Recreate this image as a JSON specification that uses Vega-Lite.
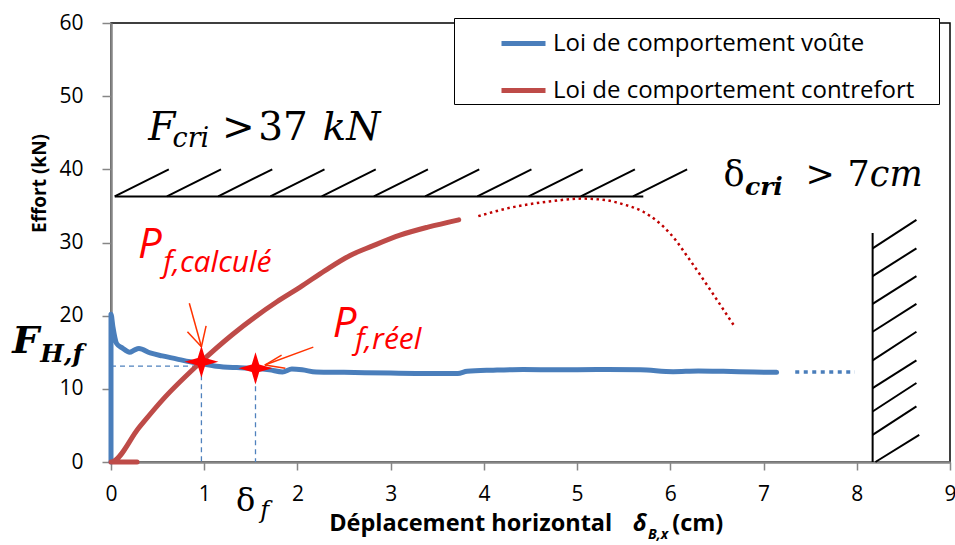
{
  "$schema": "https://vega.github.io/schema/vega-lite/v6.json",
  "width": 839,
  "height": 439,
  "autosize": {"type": "none"},
  "padding": {"left": 111, "top": 23, "right": 5, "bottom": 83},
  "background": "white",
  "config": {
    "view": {"stroke": "#000", "strokeWidth": 1.5},
    "axis": {"grid": false}
  },
  "datasets": {
    "main": [
      {"serie": "Loi de comportement voûte", "o": 0, "x": 0, "y": 0},
      {"serie": "Loi de comportement voûte", "o": 1, "x": 0, "y": 20.2},
      {"serie": "Loi de comportement voûte", "o": 2, "x": 0.02, "y": 18.5},
      {"serie": "Loi de comportement voûte", "o": 3, "x": 0.06, "y": 16.2},
      {"serie": "Loi de comportement voûte", "o": 4, "x": 0.12, "y": 15.6},
      {"serie": "Loi de comportement voûte", "o": 5, "x": 0.2, "y": 15.0},
      {"serie": "Loi de comportement voûte", "o": 6, "x": 0.25, "y": 15.3},
      {"serie": "Loi de comportement voûte", "o": 7, "x": 0.3, "y": 15.5},
      {"serie": "Loi de comportement voûte", "o": 8, "x": 0.42, "y": 14.9},
      {"serie": "Loi de comportement voûte", "o": 9, "x": 0.55, "y": 14.5},
      {"serie": "Loi de comportement voûte", "o": 10, "x": 0.7, "y": 14.1},
      {"serie": "Loi de comportement voûte", "o": 11, "x": 0.85, "y": 13.7},
      {"serie": "Loi de comportement voûte", "o": 12, "x": 0.95, "y": 13.5},
      {"serie": "Loi de comportement voûte", "o": 13, "x": 1.13, "y": 13.1},
      {"serie": "Loi de comportement voûte", "o": 14, "x": 1.35, "y": 12.9},
      {"serie": "Loi de comportement voûte", "o": 15, "x": 1.55, "y": 12.8},
      {"serie": "Loi de comportement voûte", "o": 16, "x": 1.7, "y": 12.6},
      {"serie": "Loi de comportement voûte", "o": 17, "x": 1.84, "y": 12.3},
      {"serie": "Loi de comportement voûte", "o": 18, "x": 1.94, "y": 12.7},
      {"serie": "Loi de comportement voûte", "o": 19, "x": 2.05, "y": 12.6},
      {"serie": "Loi de comportement voûte", "o": 20, "x": 2.2, "y": 12.3},
      {"serie": "Loi de comportement voûte", "o": 21, "x": 2.5, "y": 12.25},
      {"serie": "Loi de comportement voûte", "o": 22, "x": 3.0, "y": 12.15},
      {"serie": "Loi de comportement voûte", "o": 23, "x": 3.4, "y": 12.1},
      {"serie": "Loi de comportement voûte", "o": 24, "x": 3.72, "y": 12.1},
      {"serie": "Loi de comportement voûte", "o": 25, "x": 3.82, "y": 12.4},
      {"serie": "Loi de comportement voûte", "o": 26, "x": 4.1, "y": 12.55},
      {"serie": "Loi de comportement voûte", "o": 27, "x": 4.42, "y": 12.65},
      {"serie": "Loi de comportement voûte", "o": 28, "x": 4.8, "y": 12.6},
      {"serie": "Loi de comportement voûte", "o": 29, "x": 5.21, "y": 12.65},
      {"serie": "Loi de comportement voûte", "o": 30, "x": 5.68, "y": 12.6},
      {"serie": "Loi de comportement voûte", "o": 31, "x": 6.03, "y": 12.35},
      {"serie": "Loi de comportement voûte", "o": 32, "x": 6.3, "y": 12.45},
      {"serie": "Loi de comportement voûte", "o": 33, "x": 6.57, "y": 12.4},
      {"serie": "Loi de comportement voûte", "o": 34, "x": 6.9, "y": 12.3},
      {"serie": "Loi de comportement voûte", "o": 35, "x": 7.14, "y": 12.25},
      {"serie": "Loi de comportement contrefort", "o": 0, "x": 0.28, "y": 0},
      {"serie": "Loi de comportement contrefort", "o": 1, "x": 0, "y": 0},
      {"serie": "Loi de comportement contrefort", "o": 2, "x": 0.3, "y": 4.7},
      {"serie": "Loi de comportement contrefort", "o": 3, "x": 0.56, "y": 8.6},
      {"serie": "Loi de comportement contrefort", "o": 4, "x": 0.95, "y": 13.5},
      {"serie": "Loi de comportement contrefort", "o": 5, "x": 1.3, "y": 17.4},
      {"serie": "Loi de comportement contrefort", "o": 6, "x": 1.78, "y": 21.9},
      {"serie": "Loi de comportement contrefort", "o": 7, "x": 2.03, "y": 23.9},
      {"serie": "Loi de comportement contrefort", "o": 8, "x": 2.3, "y": 26.2},
      {"serie": "Loi de comportement contrefort", "o": 9, "x": 2.56, "y": 28.2},
      {"serie": "Loi de comportement contrefort", "o": 10, "x": 2.8, "y": 29.5},
      {"serie": "Loi de comportement contrefort", "o": 11, "x": 3.1, "y": 31.0},
      {"serie": "Loi de comportement contrefort", "o": 12, "x": 3.4, "y": 32.1},
      {"serie": "Loi de comportement contrefort", "o": 13, "x": 3.73, "y": 33.1}
    ],
    "redDot": [
      {"x": 3.94, "y": 33.6}, {"x": 4.3, "y": 34.8}, {"x": 4.7, "y": 35.6},
      {"x": 5.06, "y": 36.0}, {"x": 5.3, "y": 35.8}, {"x": 5.5, "y": 35.2},
      {"x": 5.71, "y": 34.2}, {"x": 5.85, "y": 33.0}, {"x": 6.0, "y": 31.2},
      {"x": 6.21, "y": 27.6}, {"x": 6.43, "y": 23.5}, {"x": 6.69, "y": 18.5}
    ],
    "blueDot": [{"x": 7.34, "y": 12.3}, {"x": 7.98, "y": 12.3}],
    "hatch": [
      {"x": 0.04, "y": 36.3, "x2": 5.71, "y2": 36.3},
      {"x": 0.04, "y": 36.3, "x2": 0.62, "y2": 40},
      {"x": 0.6, "y": 36.3, "x2": 1.18, "y2": 40},
      {"x": 1.15, "y": 36.3, "x2": 1.73, "y2": 40},
      {"x": 1.71, "y": 36.3, "x2": 2.29, "y2": 40},
      {"x": 2.26, "y": 36.3, "x2": 2.84, "y2": 40},
      {"x": 2.82, "y": 36.3, "x2": 3.4, "y2": 40},
      {"x": 3.37, "y": 36.3, "x2": 3.95, "y2": 40},
      {"x": 3.93, "y": 36.3, "x2": 4.51, "y2": 40},
      {"x": 4.48, "y": 36.3, "x2": 5.06, "y2": 40},
      {"x": 5.04, "y": 36.3, "x2": 5.62, "y2": 40},
      {"x": 5.6, "y": 36.3, "x2": 6.18, "y2": 40},
      {"x": 8.17, "y": 0, "x2": 8.17, "y2": 31.3},
      {"x": 8.17, "y": 29.2, "x2": 8.64, "y2": 33.1},
      {"x": 8.17, "y": 25.4, "x2": 8.64, "y2": 29.2},
      {"x": 8.17, "y": 21.6, "x2": 8.64, "y2": 25.4},
      {"x": 8.17, "y": 17.8, "x2": 8.64, "y2": 21.6},
      {"x": 8.17, "y": 13.9, "x2": 8.64, "y2": 17.8},
      {"x": 8.17, "y": 10.1, "x2": 8.64, "y2": 13.9},
      {"x": 8.17, "y": 6.9, "x2": 8.64, "y2": 10.8},
      {"x": 8.17, "y": 3.7, "x2": 8.64, "y2": 7.6},
      {"x": 8.2, "y": 0, "x2": 8.67, "y2": 3.7}
    ],
    "dashes": [
      {"x": 0, "y": 13.1, "x2": 0.97, "y2": 13.1},
      {"x": 0.97, "y": 13.1, "x2": 0.97, "y2": 0},
      {"x": 1.55, "y": 12.8, "x2": 1.55, "y2": 0}
    ],
    "arrows": [
      {"x": 0.84, "y": 21.7, "x2": 0.97, "y2": 15.75},
      {"x": 0.82, "y": 17.8, "x2": 0.97, "y2": 15.75},
      {"x": 1.02, "y": 18.6, "x2": 0.97, "y2": 15.75},
      {"x": 2.17, "y": 15.7, "x2": 1.65, "y2": 13.25},
      {"x": 1.83, "y": 14.6, "x2": 1.65, "y2": 13.25},
      {"x": 1.87, "y": 12.8, "x2": 1.65, "y2": 13.25}
    ],
    "stars": [{"x": 0.97, "y": 13.7}, {"x": 1.55, "y": 12.8}]
  },
  "encoding": {
    "x": {
      "field": "x", "type": "quantitative",
      "scale": {"domain": [0, 9], "nice": false, "zero": false},
      "axis": {
        "values": [0, 1, 2, 3, 4, 5, 6, 7, 8, 9], "title": null,
        "labelFont": "Open Sans", "labelFontSize": 21, "labelColor": "#000",
        "labelFlush": false, "labelPadding": 13,
        "domainColor": "#868686", "domainWidth": 2.5,
        "tickColor": "#868686", "tickWidth": 1.5, "tickSize": 8
      }
    },
    "y": {
      "field": "y", "type": "quantitative",
      "scale": {"domain": [0, 60], "nice": false, "zero": false},
      "axis": {
        "values": [0, 10, 20, 30, 40, 50, 60],
        "title": "Effort (kN)", "titleFont": "Open Sans", "titleFontSize": 19,
        "titleFontWeight": "bold", "titleColor": "#000",
        "titleX": -66, "titleY": 160, "titleBaseline": "alphabetic", "titleAngle": -90,
        "labelFont": "Open Sans", "labelFontSize": 21, "labelColor": "#000",
        "labelPadding": 19, "labelFlush": false,
        "domainColor": "#868686", "domainWidth": 2.5,
        "tickColor": "#868686", "tickWidth": 1.5, "tickSize": 9
      }
    }
  },
  "layer": [
    {
      "data": {"name": "hatch"},
      "mark": {"type": "rule", "color": "#000", "strokeWidth": 2},
      "encoding": {"x2": {"field": "x2"}, "y2": {"field": "y2"}}
    },
    {
      "data": {"name": "dashes"},
      "mark": {"type": "rule", "color": "#4F81BD", "strokeWidth": 1.3, "strokeDash": [5, 4]},
      "encoding": {"x2": {"field": "x2"}, "y2": {"field": "y2"}}
    },
    {
      "data": {"name": "main"},
      "mark": {"type": "line", "strokeWidth": 5, "strokeCap": "round", "strokeJoin": "round", "interpolate": "monotone"},
      "encoding": {
        "color": {
          "field": "serie", "type": "nominal",
          "scale": {"domain": ["Loi de comportement voûte", "Loi de comportement contrefort"], "range": ["#4A7EBB", "#BE4B48"]},
          "legend": {
            "orient": "none", "legendX": 343, "legendY": -5,
            "title": "\u00a0", "titleOrient": "right", "titlePadding": 24, "titleFontSize": 6,
            "strokeColor": "#000", "fillColor": "#fff", "padding": 1,
            "rowPadding": 10, "symbolType": "stroke", "symbolStrokeWidth": 5,
            "symbolSize": 1936, "symbolOffset": 44, "labelOffset": 5,
            "labelFont": "Open Sans", "labelFontSize": 24, "labelColor": "#000", "labelLimit": 0
          }
        },
        "order": {"field": "o", "type": "quantitative"}
      }
    },
    {
      "data": {"name": "redDot"},
      "mark": {"type": "line", "color": "#C00000", "strokeWidth": 2.5, "strokeDash": [2.5, 3.5], "interpolate": "monotone"},
      "encoding": {}
    },
    {
      "data": {"name": "blueDot"},
      "mark": {"type": "line", "color": "#4A7EBB", "strokeWidth": 3.5, "strokeDash": [4, 4.5]},
      "encoding": {}
    },
    {
      "data": {"name": "arrows"},
      "mark": {"type": "rule", "color": "#FF3300", "strokeWidth": 1.5},
      "encoding": {"x2": {"field": "x2"}, "y2": {"field": "y2"}}
    },
    {
      "data": {"name": "stars"},
      "mark": {"type": "point", "filled": true, "color": "#FF0000", "opacity": 1, "size": 1150,
               "shape": "M0,-0.95 L0.22,-0.22 L1,0 L0.22,0.22 L0,0.95 L-0.22,0.22 L-1,0 L-0.22,-0.22 Z"},
      "encoding": {}
    },
    {
      "data": {"values": [{"x": 0.40, "y": 44.0, "t": "F"}, {"x": 2.27, "y": 44.0, "t": "kN"}]},
      "mark": {"type": "text", "font": "DejaVu Serif", "fontSize": 39, "fontStyle": "italic", "align": "left", "baseline": "alphabetic", "color": "#000"},
      "encoding": {"text": {"field": "t"}}
    },
    {
      "data": {"values": [{"x": 1.19, "y": 44.0, "t": ">"}, {"x": 1.58, "y": 44.0, "t": "37"}]},
      "mark": {"type": "text", "font": "DejaVu Serif", "fontSize": 39, "align": "left", "baseline": "alphabetic", "color": "#000"},
      "encoding": {"text": {"field": "t"}}
    },
    {
      "data": {"values": [{"x": 0.66, "y": 43.0, "t": "cri"}]},
      "mark": {"type": "text", "font": "DejaVu Serif", "fontSize": 27, "fontStyle": "italic", "align": "left", "baseline": "alphabetic", "color": "#000"},
      "encoding": {"text": {"field": "t"}}
    },
    {
      "data": {"values": [{"x": 6.57, "y": 37.7, "t": "δ"}, {"x": 7.45, "y": 37.7, "t": ">"}, {"x": 7.9, "y": 37.7, "t": "7"}]},
      "mark": {"type": "text", "font": "DejaVu Serif", "fontSize": 35, "align": "left", "baseline": "alphabetic", "color": "#000"},
      "encoding": {"text": {"field": "t"}}
    },
    {
      "data": {"values": [{"x": 8.14, "y": 37.7, "t": "cm"}]},
      "mark": {"type": "text", "font": "DejaVu Serif", "fontSize": 35, "fontStyle": "italic", "align": "left", "baseline": "alphabetic", "color": "#000"},
      "encoding": {"text": {"field": "t"}}
    },
    {
      "data": {"values": [{"x": 6.8, "y": 36.5, "t": "cri"}, {"x": -0.76, "y": 13.7, "t": "H,f"}]},
      "mark": {"type": "text", "font": "DejaVu Serif", "fontSize": 25, "fontStyle": "italic", "fontWeight": "bold", "align": "left", "baseline": "alphabetic", "color": "#000"},
      "encoding": {"text": {"field": "t"}}
    },
    {
      "data": {"values": [{"x": -1.06, "y": 14.9, "t": "F"}]},
      "mark": {"type": "text", "font": "DejaVu Serif", "fontSize": 38, "fontStyle": "italic", "fontWeight": "bold", "align": "left", "baseline": "alphabetic", "color": "#000"},
      "encoding": {"text": {"field": "t"}}
    },
    {
      "data": {"values": [{"x": 1.34, "y": -6.7, "t": "δ"}]},
      "mark": {"type": "text", "font": "DejaVu Serif", "fontSize": 32, "align": "left", "baseline": "alphabetic", "color": "#000"},
      "encoding": {"text": {"field": "t"}}
    },
    {
      "data": {"values": [{"x": 1.6, "y": -7.6, "t": "f"}]},
      "mark": {"type": "text", "font": "DejaVu Serif", "fontSize": 24, "fontStyle": "italic", "align": "left", "baseline": "alphabetic", "color": "#000"},
      "encoding": {"text": {"field": "t"}}
    },
    {
      "data": {"values": [{"x": 0.29, "y": 27.9, "t": "P"}, {"x": 2.38, "y": 17.1, "t": "P"}]},
      "mark": {"type": "text", "font": "Open Sans", "fontSize": 42, "fontStyle": "italic", "align": "left", "baseline": "alphabetic", "color": "#FF0000"},
      "encoding": {"text": {"field": "t"}}
    },
    {
      "data": {"values": [{"x": 0.56, "y": 25.9, "t": "f,calculé"}, {"x": 2.62, "y": 15.5, "t": "f,réel"}]},
      "mark": {"type": "text", "font": "Open Sans", "fontSize": 30, "fontStyle": "italic", "align": "left", "baseline": "alphabetic", "color": "#FF0000"},
      "encoding": {"text": {"field": "t"}}
    },
    {
      "data": {"values": [{"x": 2.34, "y": -9.4, "t": "Déplacement horizontal"}, {"x": 6.02, "y": -9.4, "t": "(cm)"}]},
      "mark": {"type": "text", "font": "Open Sans", "fontSize": 23.5, "fontWeight": "bold", "align": "left", "baseline": "alphabetic", "color": "#000"},
      "encoding": {"text": {"field": "t"}}
    },
    {
      "data": {"values": [{"x": 5.6, "y": -9.4, "t": "δ"}]},
      "mark": {"type": "text", "font": "Open Sans", "fontSize": 23.5, "fontWeight": "bold", "fontStyle": "italic", "align": "left", "baseline": "alphabetic", "color": "#000"},
      "encoding": {"text": {"field": "t"}}
    },
    {
      "data": {"values": [{"x": 5.76, "y": -10.5, "t": "B,x"}]},
      "mark": {"type": "text", "font": "Open Sans", "fontSize": 14, "fontWeight": "bold", "fontStyle": "italic", "align": "left", "baseline": "alphabetic", "color": "#000"},
      "encoding": {"text": {"field": "t"}}
    }
  ]
}
